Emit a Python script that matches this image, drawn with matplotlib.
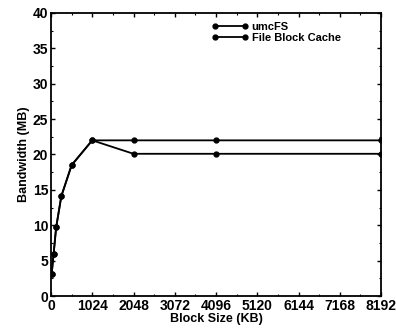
import matplotlib
matplotlib.use("Agg")
import matplotlib.pyplot as plt
from matplotlib.ticker import MultipleLocator

plt.rcParams['font.family'] = ['Liberation Sans', 'DejaVu Sans']
plt.rcParams['font.weight'] = 'bold'

block_sizes = [16, 64, 128, 256, 512, 1024, 2048, 4096, 8192]
umcfs = [3.1, 5.9, 9.7, 14.1, 18.5, 22.0, 22.0, 22.0, 22.0]
file_block_cache = [3.1, 5.9, 9.7, 14.1, 18.5, 22.0, 20.1, 20.1, 20.1]
x_ticks = [0, 1024, 2048, 3072, 4096, 5120, 6144, 7168, 8192]
y_ticks = [0, 5, 10, 15, 20, 25, 30, 35, 40]

fig = plt.figure(figsize=(3.96, 3.33), dpi=100)
ax = fig.add_axes([51/396, 37/333, 330/396, 283/333])

ax.plot(block_sizes, umcfs, color='black', lw=1.3, marker='o', ms=3.5, label='umcFS')
ax.plot(block_sizes, file_block_cache, color='black', lw=1.3, marker='o', ms=3.5, label='File Block Cache')

ax.set_xlim(0, 8192)
ax.set_ylim(0, 40)
ax.set_xticks(x_ticks)
ax.set_xticklabels([str(t) for t in x_ticks])
ax.set_yticks(y_ticks)
ax.xaxis.set_minor_locator(MultipleLocator(512))
ax.yaxis.set_minor_locator(MultipleLocator(2.5))
ax.tick_params(which='both', direction='in', top=True, right=True, labelsize=10, pad=2)
ax.tick_params(which='major', length=3, width=1)
ax.tick_params(which='minor', length=1.5, width=0.8)
for s in ax.spines.values():
    s.set_linewidth(1.3)

ax.set_xlabel('Block Size (KB)', fontsize=9, fontweight='bold', labelpad=0)
ax.set_ylabel('Bandwidth (MB)', fontsize=9, fontweight='bold', labelpad=2)

ax.legend(loc='upper left', bbox_to_anchor=(0.46, 1.0), frameon=False,
          numpoints=2, handlelength=3.3, handletextpad=0.3, labelspacing=0.1,
          borderaxespad=0.4, prop={'weight': 'bold', 'size': 8})

fig.savefig('out.png', dpi=100)
